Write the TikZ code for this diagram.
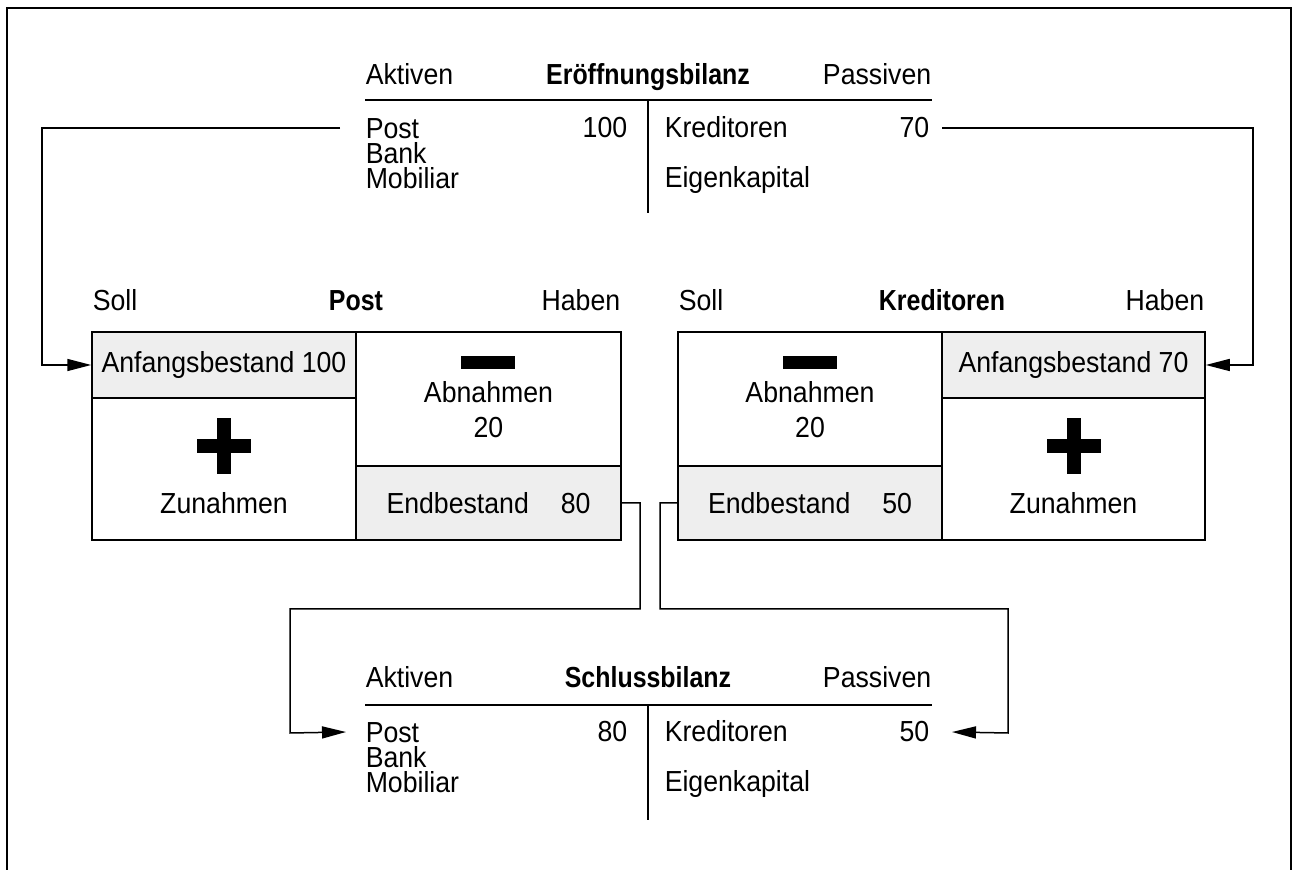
\documentclass[tikz,border=0pt]{standalone}
\usepackage{fontspec}
\setmainfont{Liberation Sans}[FakeStretch=0.92, BoldFeatures={FakeStretch=0.86}]
\usetikzlibrary{arrows.meta,positioning,calc}
\definecolor{shade}{HTML}{EEEEEE}

\begin{document}
\begin{tikzpicture}[x=0.5pt, y=-0.5pt, line width=0.75pt,
        every node/.style = {inner sep=0pt, font=\fontsize{14.5pt}{12.5pt}\selectfont},
        title/.style = {anchor=base, font=\fontsize{14.5pt}{12.5pt}\selectfont\bfseries},
        lft/.style = {anchor=base west},
        rgt/.style = {anchor=base east},
        mid/.style = {anchor=base},
        liste/.style = {anchor=north west, align=left},
        cell/.style = {draw, minimum width=132pt, align=center},
        grey/.style = {cell, fill=shade},
        arr/.style = {-{Triangle[length=12pt,width=6pt]}},
    ]
    \useasboundingbox (0,0) rectangle (1292,870);
    \draw[line width=1pt] (7,870) -- (7,8) -- (1291,8) -- (1291,870);

    % Eroeffnungsbilanz
    \node[lft] (eb-akt) at (365,85) {Aktiven};
    \node[title] (eb-titel) at (648,85) {Eröffnungsbilanz};
    \node[rgt] (eb-pas) at (932,85) {Passiven};
    \draw (365,100) -- (932,100);
    \draw (648,100) -- (648,213);
    \node[liste] (eb-aktiva) at (365,118) {Post\\Bank\\Mobiliar};
    \node[rgt] (eb-100) at (628,138) {100};
    \node[lft] (eb-kred) at (664,138) {Kreditoren};
    \node[rgt] (eb-70) at (930,138) {70};
    \node[lft] (eb-ek) at (664,188) {Eigenkapital};

    % Konto Post
    \node[lft] (pa-soll) at (92,311) {Soll};
    \node[title] (pa-titel) at (356,311) {Post};
    \node[rgt] (pa-haben) at (621,311) {Haben};
    \node[grey, minimum height=33pt] (pa-anf) at (224,365) {Anfangsbestand 100};
    \node[cell, minimum height=71pt] (pa-zu) at (224,469) {};
    \node[cell, minimum width=132.5pt, minimum height=67pt] (pa-ab) at (488.5,399) {};
    \node[grey, minimum width=132.5pt, minimum height=37pt] (pa-end) at (488.5,503) {Endbestand\hspace{1.1em}80};
    \fill (217,418) rectangle (231,474);
    \fill (197,439) rectangle (251,453);
    \node[mid] (pa-zu-txt) at (224,514) {Zunahmen};
    \fill (461,356) rectangle (515,369);
    \node[mid] (pa-ab-txt) at (488.5,403) {Abnahmen};
    \node[mid] (pa-ab-wert) at (488.5,438) {20};

    % Konto Kreditoren
    \node[lft] (ka-soll) at (678,311) {Soll};
    \node[title] (ka-titel) at (942,311) {Kreditoren};
    \node[rgt] (ka-haben) at (1205,311) {Haben};
    \node[cell, minimum height=67pt] (ka-ab) at (810,399) {};
    \node[grey, minimum height=37pt] (ka-end) at (810,503) {Endbestand\hspace{1.1em}50};
    \node[grey, minimum width=131.5pt, minimum height=33pt] (ka-anf) at (1073.5,365) {Anfangsbestand 70};
    \node[cell, minimum width=131.5pt, minimum height=71pt] (ka-zu) at (1073.5,469) {};
    \fill (783,356) rectangle (837,369);
    \node[mid] (ka-ab-txt) at (810,403) {Abnahmen};
    \node[mid] (ka-ab-wert) at (810,438) {20};
    \fill (1066.5,418) rectangle (1080.5,474);
    \fill (1046.5,439) rectangle (1100.5,453);
    \node[mid] (ka-zu-txt) at (1073.5,514) {Zunahmen};

    % Schlussbilanz
    \node[lft] (sb-akt) at (365,688) {Aktiven};
    \node[title] (sb-titel) at (648,688) {Schlussbilanz};
    \node[rgt] (sb-pas) at (932,688) {Passiven};
    \draw (365,705) -- (932,705);
    \draw (648,705) -- (648,820);
    \node[liste] (sb-aktiva) at (365,722) {Post\\Bank\\Mobiliar};
    \node[rgt] (sb-80) at (628,742) {80};
    \node[lft] (sb-kred) at (664,742) {Kreditoren};
    \node[rgt] (sb-50) at (930,742) {50};
    \node[lft] (sb-ek) at (664,792) {Eigenkapital};

    % Verbindungen
    \draw[arr] ($(eb-aktiva.west |- eb-100.west)+(-25,0)$) -| (42,365) -- (pa-anf.west);
    \draw[arr] ([xshift=6pt]eb-70.east) -| (1253,365) -- (ka-anf.east);
    \draw[arr] (pa-end.east) -| (640,609) -| (290,733) -- ($(sb-aktiva.west |- sb-80.west)+(-19,0)$);
    \draw[arr] (ka-end.west) -| (660,609) -| (1008,733) -- ([xshift=11pt]sb-50.east);
\end{tikzpicture}
\end{document}
